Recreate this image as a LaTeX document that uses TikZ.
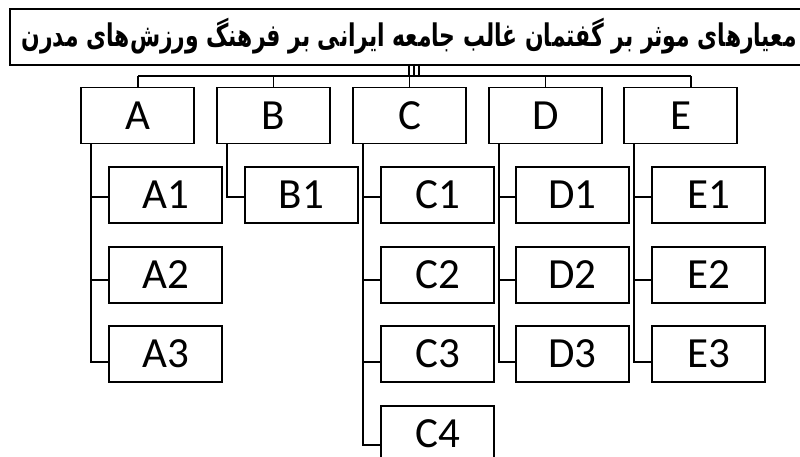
\documentclass[tikz,border=0pt]{standalone}
\usepackage{fontspec}
\usepackage{graphicx}
\setmainfont{Carlito}
\newfontfamily\arabicfont[Script=Arabic]{DejaVu Sans}
\TeXXeTstate=1
\tikzset{
  box/.style={draw, line width=1.8pt, rectangle, minimum width=113pt, minimum height=56pt, inner sep=0pt, font=\fontsize{43}{46}\selectfont},
  link/.style={line width=1.8pt},
}
\begin{document}
\begin{tikzpicture}[x=1pt,y=-1pt]
\useasboundingbox (0,0) rectangle (800,457);
\clip (0,0) rectangle (800,457);
\fill[white] (0,0) rectangle (800,457);
% title
\node[draw, line width=1.8pt, rectangle, minimum width=830pt, minimum height=56pt, inner sep=0pt, anchor=north west] (T) at (9,8) {};
\node[anchor=east, inner sep=0pt] (TT) at (797,36) {\resizebox*{775pt}{36pt}{\arabicfont\bfseries\beginR معیارهای موثر بر گفتمان غالب جامعه ایرانی  بر فرهنگ ورزش‌های مدرن\endR}};
% top boxes
\node[box] (A) at (137.5,115.5) {A};
\node[box] (B) at (273.5,115.5) {B};
\node[box] (C) at (409.5,115.5) {C};
\node[box] (D) at (545.5,115.5) {D};
\node[box] (E) at (680.5,115.5) {E};
% children
\node[box] (A1) at (165.5,195) {A1};
\node[box] (A2) at (165.5,275) {A2};
\node[box] (A3) at (165.5,354) {A3};
\node[box] (B1) at (301.5,195) {B1};
\node[box] (C1) at (437.5,195) {C1};
\node[box] (C2) at (437.5,275) {C2};
\node[box] (C3) at (437.5,354) {C3};
\node[box] (C4) at (437.5,434) {C4};
\node[box] (D1) at (572.5,195) {D1};
\node[box] (D2) at (572.5,275) {D2};
\node[box] (D3) at (572.5,354) {D3};
\node[box] (E1) at (708.5,195) {E1};
\node[box] (E2) at (708.5,275) {E2};
\node[box] (E3) at (708.5,354) {E3};
% bus
\coordinate (busL) at (138,76);
\coordinate (busR) at (691,76);
\draw[link] (busL) -- (busR);
\foreach \x in {409,414,419} \draw[line width=1.3pt] (\x,64) -- (\x,76);
\draw[link] (busL) -- (A.north -| busL);
\draw[link] (273.5,76) -- (B.north);
\draw[link] (409.5,76) -- (C.north);
\draw[link] (545.5,76) -- (D.north);
\draw[link] (busR) -- (E.north -| busR);
% branches
\foreach \p/\kids in {A/{A1/2,A2/5,A3/8}, B/{B1/2}, C/{C1/2,C2/5,C3/8,C4/11}, D/{D1/2,D2/5,D3/8}, E/{E1/2,E2/5,E3/8}}{
  \foreach \k/\d in \kids {
    \draw[link] ([xshift=11pt]\p.south west) |- ([yshift=-\d pt]\k.west);
  }
}
\end{tikzpicture}
\end{document}
